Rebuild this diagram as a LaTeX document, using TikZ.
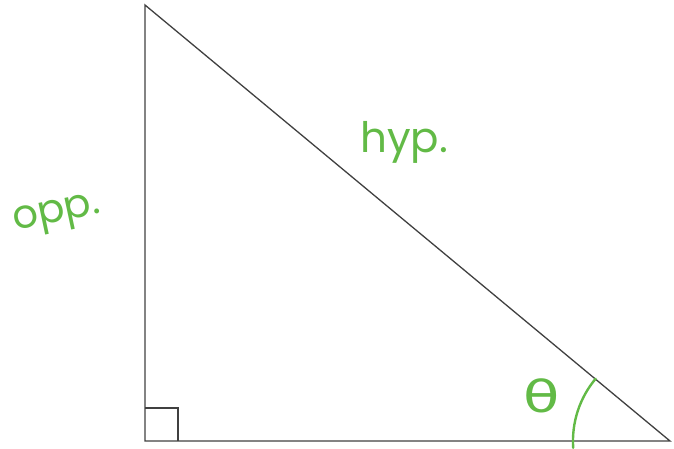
\documentclass[tikz,border=0pt]{standalone}
\usepackage{fontspec}
\setmainfont{Poppins}
\definecolor{pen}{RGB}{98,186,70}
\newfontfamily\thetafont{DejaVu Sans}
\tikzset{
  edge/.style={draw=black!75, line width=1.3pt},
  hand/.style={text=pen, font=\fontsize{40}{40}\selectfont, inner sep=0pt},
  stroke/.style={draw=pen, line width=2.4pt, line cap=round}
}
\begin{document}
\begin{tikzpicture}[x=1pt,y=-1pt]
\useasboundingbox (0,0) rectangle (674,448);
\coordinate (A) at (145,5);
\coordinate (C) at (145,441);
\coordinate (B) at (670,441);
\draw[edge] (A) -- (C) -- (B) -- cycle;
\draw[edge, line width=1.1pt] (145,408) -- (178,408) -- (178,441);
\node[hand, rotate=12] (opp) at (57,216) {opp.};
\node[hand, font=\fontsize{42}{42}\selectfont] (hyp) at (404,142) {hyp.};
\node[hand, font=\fontsize{44}{44}\selectfont\thetafont, xscale=1.35] (th) at (542,396) {θ};
\draw[stroke] (B) ++(-96.8,6.8) arc[start angle=176, end angle=220, radius=97];
\end{tikzpicture}
\end{document}
